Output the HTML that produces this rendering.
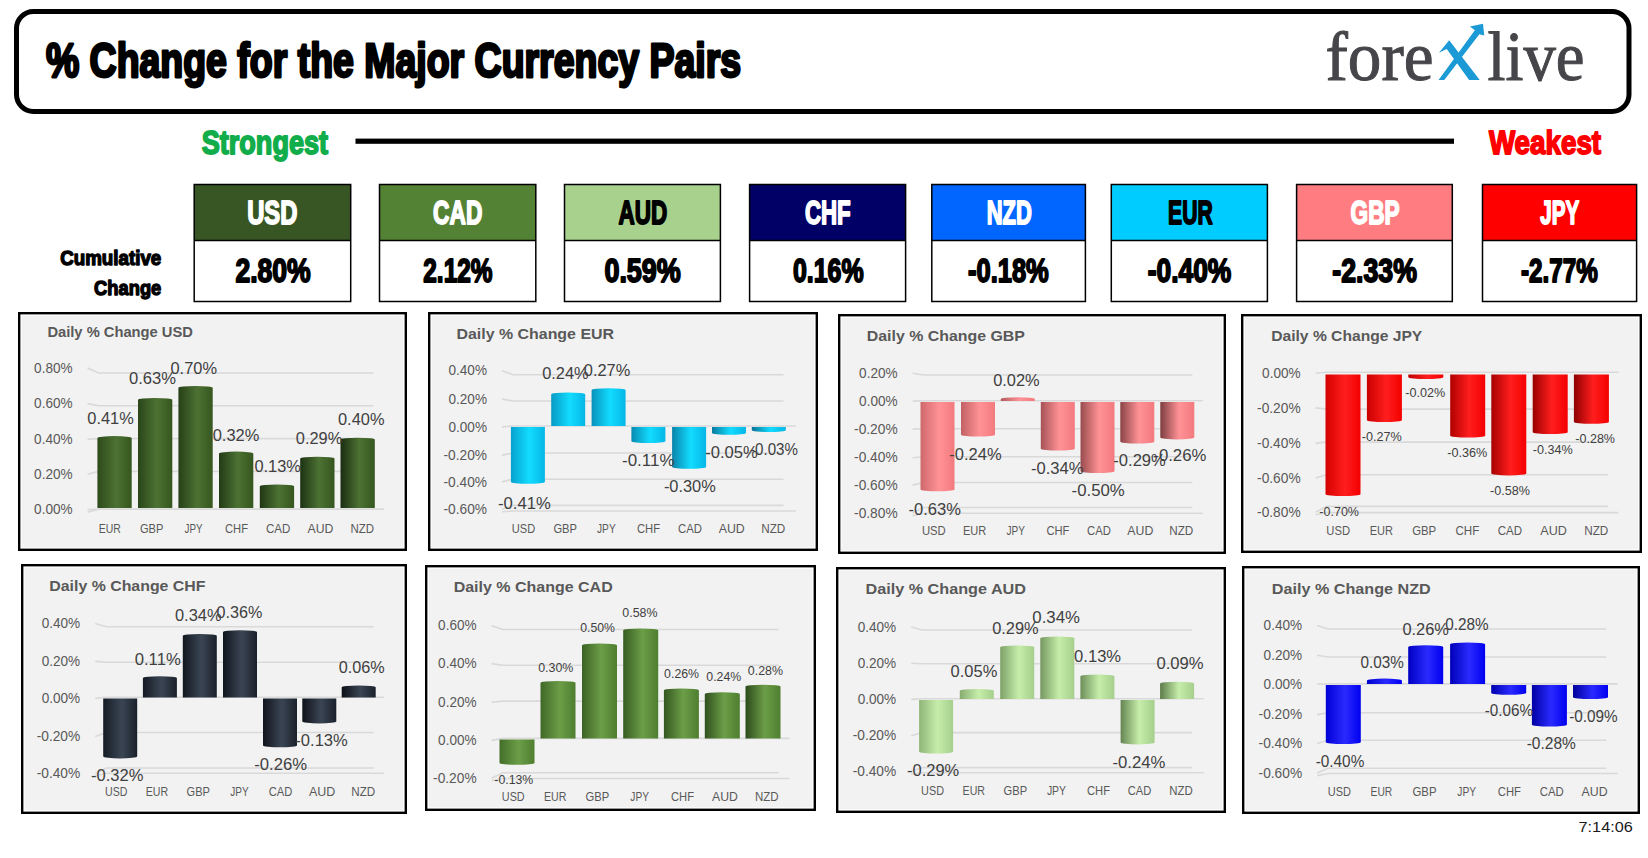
<!DOCTYPE html>
<html><head><meta charset="utf-8"><title>% Change for the Major Currency Pairs</title>
<style>html,body{margin:0;padding:0;background:#fff;width:1648px;height:858px;overflow:hidden;font-family:"Liberation Sans", sans-serif;}
svg{display:block;}</style></head>
<body><svg width="1648" height="858" viewBox="0 0 1648 858">
<rect x="16.5" y="11.5" width="1612.5" height="100" rx="17" ry="17" fill="#fff" stroke="#000" stroke-width="5"/>
<text x="45.9" y="77.1" font-family="Liberation Sans" font-size="47.53" font-weight="bold" fill="#000" text-anchor="start" textLength="695.2" lengthAdjust="spacingAndGlyphs" stroke="#000" stroke-width="2.8" stroke-linejoin="round">% Change for the Major Currency Pairs</text>
<text x="1325.5" y="79.5" font-family="Liberation Serif" font-size="70" fill="#46464a" stroke="#46464a" stroke-width="1" textLength="108" lengthAdjust="spacingAndGlyphs">fore</text>
<text x="1487.5" y="79.5" font-family="Liberation Serif" font-size="70" fill="#46464a" stroke="#46464a" stroke-width="1" textLength="97" lengthAdjust="spacingAndGlyphs">live</text>
<polygon points="1438.97,52.67 1449.17,40.19 1479.76,79.99 1469.15,79.99 1446.72,49.00" fill="#1b9ad6"/>
<polygon points="1438.56,79.99 1444.27,79.99 1479.35,34.31 1484.24,35.54 1483.02,23.71 1469.97,26.56 1474.86,30.23" fill="#1b9ad6"/>
<text x="201.7" y="153.5" font-family="Liberation Sans" font-size="33.14" font-weight="bold" fill="#12ad4b" text-anchor="start" textLength="126.4" lengthAdjust="spacingAndGlyphs" stroke="#12ad4b" stroke-width="1.8" stroke-linejoin="round">Strongest</text>
<text x="1488.9" y="153.5" font-family="Liberation Sans" font-size="33.14" font-weight="bold" fill="#ff0000" text-anchor="start" textLength="112.2" lengthAdjust="spacingAndGlyphs" stroke="#ff0000" stroke-width="1.8" stroke-linejoin="round">Weakest</text>
<rect x="355.5" y="138.6" width="1098.5" height="5.2" fill="#000"/>
<text x="60.2" y="265.1" font-family="Liberation Sans" font-size="21.08" font-weight="bold" fill="#000" text-anchor="start" textLength="101.1" lengthAdjust="spacingAndGlyphs" stroke="#000" stroke-width="1.4" stroke-linejoin="round">Cumulative</text>
<text x="94.1" y="295.0" font-family="Liberation Sans" font-size="21.08" font-weight="bold" fill="#000" text-anchor="start" textLength="67.2" lengthAdjust="spacingAndGlyphs" stroke="#000" stroke-width="1.4" stroke-linejoin="round">Change</text>
<rect x="194.2" y="184.5" width="156.5" height="56" fill="#375623"/>
<rect x="194.2" y="240.5" width="156.5" height="61" fill="#fff"/>
<rect x="194.2" y="184.5" width="156.5" height="117" fill="none" stroke="#000" stroke-width="1.5"/>
<line x1="194.2" y1="240.5" x2="350.7" y2="240.5" stroke="#000" stroke-width="1.5"/>
<text x="247.2" y="223.6" font-family="Liberation Sans" font-size="33.14" font-weight="bold" fill="#fff" text-anchor="start" textLength="50.2" lengthAdjust="spacingAndGlyphs" stroke="#fff" stroke-width="1.8" stroke-linejoin="round">USD</text>
<text x="235.4" y="281.9" font-family="Liberation Sans" font-size="33.14" font-weight="bold" fill="#000" text-anchor="start" textLength="75.3" lengthAdjust="spacingAndGlyphs" stroke="#000" stroke-width="1.8" stroke-linejoin="round">2.80%</text>
<rect x="379.5" y="184.5" width="156.3" height="56" fill="#548235"/>
<rect x="379.5" y="240.5" width="156.3" height="61" fill="#fff"/>
<rect x="379.5" y="184.5" width="156.3" height="117" fill="none" stroke="#000" stroke-width="1.5"/>
<line x1="379.5" y1="240.5" x2="535.8" y2="240.5" stroke="#000" stroke-width="1.5"/>
<text x="433.1" y="223.6" font-family="Liberation Sans" font-size="33.14" font-weight="bold" fill="#fff" text-anchor="start" textLength="49.2" lengthAdjust="spacingAndGlyphs" stroke="#fff" stroke-width="1.8" stroke-linejoin="round">CAD</text>
<text x="423.3" y="281.9" font-family="Liberation Sans" font-size="33.14" font-weight="bold" fill="#000" text-anchor="start" textLength="69.2" lengthAdjust="spacingAndGlyphs" stroke="#000" stroke-width="1.8" stroke-linejoin="round">2.12%</text>
<rect x="564.5" y="184.5" width="155.9" height="56" fill="#a9d18e"/>
<rect x="564.5" y="240.5" width="155.9" height="61" fill="#fff"/>
<rect x="564.5" y="184.5" width="155.9" height="117" fill="none" stroke="#000" stroke-width="1.5"/>
<line x1="564.5" y1="240.5" x2="720.4" y2="240.5" stroke="#000" stroke-width="1.5"/>
<text x="618.4" y="223.6" font-family="Liberation Sans" font-size="33.14" font-weight="bold" fill="#000" text-anchor="start" textLength="48.8" lengthAdjust="spacingAndGlyphs" stroke="#000" stroke-width="1.8" stroke-linejoin="round">AUD</text>
<text x="604.4" y="281.9" font-family="Liberation Sans" font-size="33.14" font-weight="bold" fill="#000" text-anchor="start" textLength="76.4" lengthAdjust="spacingAndGlyphs" stroke="#000" stroke-width="1.8" stroke-linejoin="round">0.59%</text>
<rect x="749.6" y="184.5" width="156.0" height="56" fill="#000066"/>
<rect x="749.6" y="240.5" width="156.0" height="61" fill="#fff"/>
<rect x="749.6" y="184.5" width="156.0" height="117" fill="none" stroke="#000" stroke-width="1.5"/>
<line x1="749.6" y1="240.5" x2="905.6" y2="240.5" stroke="#000" stroke-width="1.5"/>
<text x="804.9" y="223.6" font-family="Liberation Sans" font-size="33.14" font-weight="bold" fill="#fff" text-anchor="start" textLength="45.8" lengthAdjust="spacingAndGlyphs" stroke="#fff" stroke-width="1.8" stroke-linejoin="round">CHF</text>
<text x="793.0" y="281.9" font-family="Liberation Sans" font-size="33.14" font-weight="bold" fill="#000" text-anchor="start" textLength="70.6" lengthAdjust="spacingAndGlyphs" stroke="#000" stroke-width="1.8" stroke-linejoin="round">0.16%</text>
<rect x="931.8" y="184.5" width="153.6" height="56" fill="#0066ff"/>
<rect x="931.8" y="240.5" width="153.6" height="61" fill="#fff"/>
<rect x="931.8" y="184.5" width="153.6" height="117" fill="none" stroke="#000" stroke-width="1.5"/>
<line x1="931.8" y1="240.5" x2="1085.4" y2="240.5" stroke="#000" stroke-width="1.5"/>
<text x="986.7" y="223.6" font-family="Liberation Sans" font-size="33.14" font-weight="bold" fill="#fff" text-anchor="start" textLength="45.1" lengthAdjust="spacingAndGlyphs" stroke="#fff" stroke-width="1.8" stroke-linejoin="round">NZD</text>
<text x="968.0" y="281.9" font-family="Liberation Sans" font-size="33.14" font-weight="bold" fill="#000" text-anchor="start" textLength="80.8" lengthAdjust="spacingAndGlyphs" stroke="#000" stroke-width="1.8" stroke-linejoin="round">-0.18%</text>
<rect x="1111.3" y="184.5" width="156.1" height="56" fill="#00ccff"/>
<rect x="1111.3" y="240.5" width="156.1" height="61" fill="#fff"/>
<rect x="1111.3" y="184.5" width="156.1" height="117" fill="none" stroke="#000" stroke-width="1.5"/>
<line x1="1111.3" y1="240.5" x2="1267.4" y2="240.5" stroke="#000" stroke-width="1.5"/>
<text x="1168.1" y="223.6" font-family="Liberation Sans" font-size="33.14" font-weight="bold" fill="#000" text-anchor="start" textLength="44.6" lengthAdjust="spacingAndGlyphs" stroke="#000" stroke-width="1.8" stroke-linejoin="round">EUR</text>
<text x="1147.8" y="281.9" font-family="Liberation Sans" font-size="33.14" font-weight="bold" fill="#000" text-anchor="start" textLength="83.5" lengthAdjust="spacingAndGlyphs" stroke="#000" stroke-width="1.8" stroke-linejoin="round">-0.40%</text>
<rect x="1296.6" y="184.5" width="155.7" height="56" fill="#ff7c80"/>
<rect x="1296.6" y="240.5" width="155.7" height="61" fill="#fff"/>
<rect x="1296.6" y="184.5" width="155.7" height="117" fill="none" stroke="#000" stroke-width="1.5"/>
<line x1="1296.6" y1="240.5" x2="1452.3" y2="240.5" stroke="#000" stroke-width="1.5"/>
<text x="1350.6" y="223.6" font-family="Liberation Sans" font-size="33.14" font-weight="bold" fill="#fff" text-anchor="start" textLength="49.0" lengthAdjust="spacingAndGlyphs" stroke="#fff" stroke-width="1.8" stroke-linejoin="round">GBP</text>
<text x="1332.3" y="281.9" font-family="Liberation Sans" font-size="33.14" font-weight="bold" fill="#000" text-anchor="start" textLength="84.6" lengthAdjust="spacingAndGlyphs" stroke="#000" stroke-width="1.8" stroke-linejoin="round">-2.33%</text>
<rect x="1482.5" y="184.5" width="154.1" height="56" fill="#ff0000"/>
<rect x="1482.5" y="240.5" width="154.1" height="61" fill="#fff"/>
<rect x="1482.5" y="184.5" width="154.1" height="117" fill="none" stroke="#000" stroke-width="1.5"/>
<line x1="1482.5" y1="240.5" x2="1636.6" y2="240.5" stroke="#000" stroke-width="1.5"/>
<text x="1540.3" y="223.6" font-family="Liberation Sans" font-size="33.14" font-weight="bold" fill="#fff" text-anchor="start" textLength="39.1" lengthAdjust="spacingAndGlyphs" stroke="#fff" stroke-width="1.8" stroke-linejoin="round">JPY</text>
<text x="1520.9" y="281.9" font-family="Liberation Sans" font-size="33.14" font-weight="bold" fill="#000" text-anchor="start" textLength="76.8" lengthAdjust="spacingAndGlyphs" stroke="#000" stroke-width="1.8" stroke-linejoin="round">-2.77%</text>
<rect x="19.5" y="313.5" width="386.0" height="236.0" fill="#f2f2f2" stroke="#000" stroke-width="3"/>
<rect x="21.0" y="315.0" width="383.0" height="233.0" fill="none" stroke="#fff" stroke-width="1.2"/>
<text x="47.4" y="337.0" font-family="Liberation Sans" font-size="15.40" font-weight="bold" fill="#595959" text-anchor="start" textLength="145.5" lengthAdjust="spacingAndGlyphs">Daily % Change USD</text>
<polyline points="87.6,368.1 98.6,373.0 373.4,373.0" fill="none" stroke="#d9d9d9" stroke-width="1.6"/>
<text x="34.1" y="372.7" font-family="Liberation Sans" font-size="14.20" font-weight="normal" fill="#595959" text-anchor="start" textLength="38.5" lengthAdjust="spacingAndGlyphs">0.80%</text>
<polyline points="87.6,403.6 98.6,405.8 373.4,405.8" fill="none" stroke="#d9d9d9" stroke-width="1.6"/>
<text x="34.1" y="408.2" font-family="Liberation Sans" font-size="14.20" font-weight="normal" fill="#595959" text-anchor="start" textLength="38.5" lengthAdjust="spacingAndGlyphs">0.60%</text>
<polyline points="87.6,439.1 98.6,438.6 373.4,438.6" fill="none" stroke="#d9d9d9" stroke-width="1.6"/>
<text x="34.1" y="443.7" font-family="Liberation Sans" font-size="14.20" font-weight="normal" fill="#595959" text-anchor="start" textLength="38.5" lengthAdjust="spacingAndGlyphs">0.40%</text>
<polyline points="87.6,474.2 98.6,471.4 373.4,471.4" fill="none" stroke="#d9d9d9" stroke-width="1.6"/>
<text x="34.1" y="478.8" font-family="Liberation Sans" font-size="14.20" font-weight="normal" fill="#595959" text-anchor="start" textLength="38.5" lengthAdjust="spacingAndGlyphs">0.20%</text>
<polyline points="87.6,509.6 98.6,509.3 384.0,509.3" fill="none" stroke="#d9d9d9" stroke-width="1.6"/>
<text x="34.1" y="514.2" font-family="Liberation Sans" font-size="14.20" font-weight="normal" fill="#595959" text-anchor="start" textLength="38.5" lengthAdjust="spacingAndGlyphs">0.00%</text>
<polyline points="87.6,512.2 98.6,509.3 384.0,509.3" fill="none" stroke="#d9d9d9" stroke-width="1.6"/>
<linearGradient id="g1" x1="0" x2="1" y1="0" y2="0"><stop offset="0" stop-color="#2e4a1b"/><stop offset="0.55" stop-color="#4c7233"/><stop offset="1" stop-color="#36561f"/></linearGradient>
<path d="M97.4,508.0 L97.4,437.9 A17.15,1.8 0 0 1 131.7,437.9 L131.7,508.0 Z" fill="url(#g1)"/>
<linearGradient id="g2" x1="0" x2="1" y1="0" y2="0"><stop offset="0" stop-color="#2a4519"/><stop offset="0.55" stop-color="#4c7233"/><stop offset="1" stop-color="#36561f"/></linearGradient>
<path d="M138.0,508.0 L138.0,399.8 A17.15,1.8 0 0 1 172.3,399.8 L172.3,508.0 Z" fill="url(#g2)"/>
<linearGradient id="g3" x1="0" x2="1" y1="0" y2="0"><stop offset="0" stop-color="#274018"/><stop offset="0.55" stop-color="#4c7233"/><stop offset="1" stop-color="#36561f"/></linearGradient>
<path d="M178.4,508.0 L178.4,387.7 A17.15,1.8 0 0 1 212.7,387.7 L212.7,508.0 Z" fill="url(#g3)"/>
<linearGradient id="g4" x1="0" x2="1" y1="0" y2="0"><stop offset="0" stop-color="#243b16"/><stop offset="0.55" stop-color="#4c7233"/><stop offset="1" stop-color="#36561f"/></linearGradient>
<path d="M219.0,508.0 L219.0,453.4 A17.15,1.8 0 0 1 253.3,453.4 L253.3,508.0 Z" fill="url(#g4)"/>
<linearGradient id="g5" x1="0" x2="1" y1="0" y2="0"><stop offset="0" stop-color="#213714"/><stop offset="0.55" stop-color="#4c7233"/><stop offset="1" stop-color="#36561f"/></linearGradient>
<path d="M259.8,508.0 L259.8,486.3 A17.15,1.8 0 0 1 294.1,486.3 L294.1,508.0 Z" fill="url(#g5)"/>
<linearGradient id="g6" x1="0" x2="1" y1="0" y2="0"><stop offset="0" stop-color="#1d3213"/><stop offset="0.55" stop-color="#4c7233"/><stop offset="1" stop-color="#36561f"/></linearGradient>
<path d="M300.2,508.0 L300.2,458.6 A17.15,1.8 0 0 1 334.5,458.6 L334.5,508.0 Z" fill="url(#g6)"/>
<linearGradient id="g7" x1="0" x2="1" y1="0" y2="0"><stop offset="0" stop-color="#1a2d11"/><stop offset="0.55" stop-color="#4c7233"/><stop offset="1" stop-color="#36561f"/></linearGradient>
<path d="M340.5,508.0 L340.5,439.6 A17.15,1.8 0 0 1 374.8,439.6 L374.8,508.0 Z" fill="url(#g7)"/>
<text x="87.3" y="423.7" font-family="Liberation Sans" font-size="16.00" font-weight="normal" fill="#404040" text-anchor="start" textLength="46.5" lengthAdjust="spacingAndGlyphs">0.41%</text>
<text x="129.0" y="384.1" font-family="Liberation Sans" font-size="16.00" font-weight="normal" fill="#404040" text-anchor="start" textLength="47.0" lengthAdjust="spacingAndGlyphs">0.63%</text>
<text x="170.5" y="373.7" font-family="Liberation Sans" font-size="16.00" font-weight="normal" fill="#404040" text-anchor="start" textLength="46.5" lengthAdjust="spacingAndGlyphs">0.70%</text>
<text x="212.7" y="440.6" font-family="Liberation Sans" font-size="16.00" font-weight="normal" fill="#404040" text-anchor="start" textLength="46.6" lengthAdjust="spacingAndGlyphs">0.32%</text>
<text x="254.4" y="472.4" font-family="Liberation Sans" font-size="16.00" font-weight="normal" fill="#404040" text-anchor="start" textLength="46.5" lengthAdjust="spacingAndGlyphs">0.13%</text>
<text x="295.8" y="444.1" font-family="Liberation Sans" font-size="16.00" font-weight="normal" fill="#404040" text-anchor="start" textLength="46.5" lengthAdjust="spacingAndGlyphs">0.29%</text>
<text x="338.0" y="425.3" font-family="Liberation Sans" font-size="16.00" font-weight="normal" fill="#404040" text-anchor="start" textLength="46.5" lengthAdjust="spacingAndGlyphs">0.40%</text>
<text x="98.8" y="533.0" font-family="Liberation Sans" font-size="12.20" font-weight="normal" fill="#595959" text-anchor="start" textLength="22.0" lengthAdjust="spacingAndGlyphs">EUR</text>
<text x="140.0" y="533.0" font-family="Liberation Sans" font-size="12.20" font-weight="normal" fill="#595959" text-anchor="start" textLength="23.4" lengthAdjust="spacingAndGlyphs">GBP</text>
<text x="184.6" y="533.0" font-family="Liberation Sans" font-size="12.20" font-weight="normal" fill="#595959" text-anchor="start" textLength="18.0" lengthAdjust="spacingAndGlyphs">JPY</text>
<text x="225.0" y="533.0" font-family="Liberation Sans" font-size="12.20" font-weight="normal" fill="#595959" text-anchor="start" textLength="23.0" lengthAdjust="spacingAndGlyphs">CHF</text>
<text x="266.0" y="533.0" font-family="Liberation Sans" font-size="12.20" font-weight="normal" fill="#595959" text-anchor="start" textLength="24.4" lengthAdjust="spacingAndGlyphs">CAD</text>
<text x="307.5" y="533.0" font-family="Liberation Sans" font-size="12.20" font-weight="normal" fill="#595959" text-anchor="start" textLength="25.9" lengthAdjust="spacingAndGlyphs">AUD</text>
<text x="350.4" y="533.0" font-family="Liberation Sans" font-size="12.20" font-weight="normal" fill="#595959" text-anchor="start" textLength="23.6" lengthAdjust="spacingAndGlyphs">NZD</text>
<rect x="429.5" y="313.5" width="387.0" height="236.0" fill="#f2f2f2" stroke="#000" stroke-width="3"/>
<rect x="431.0" y="315.0" width="384.0" height="233.0" fill="none" stroke="#fff" stroke-width="1.2"/>
<text x="456.5" y="338.6" font-family="Liberation Sans" font-size="15.40" font-weight="bold" fill="#595959" text-anchor="start" textLength="157.5" lengthAdjust="spacingAndGlyphs">Daily % Change EUR</text>
<polyline points="502.0,370.7 513.0,374.8 783.5,374.8" fill="none" stroke="#d9d9d9" stroke-width="1.6"/>
<text x="448.5" y="375.3" font-family="Liberation Sans" font-size="14.20" font-weight="normal" fill="#595959" text-anchor="start" textLength="38.5" lengthAdjust="spacingAndGlyphs">0.40%</text>
<polyline points="502.0,399.1 513.0,401.0 783.5,401.0" fill="none" stroke="#d9d9d9" stroke-width="1.6"/>
<text x="448.5" y="403.7" font-family="Liberation Sans" font-size="14.20" font-weight="normal" fill="#595959" text-anchor="start" textLength="38.5" lengthAdjust="spacingAndGlyphs">0.20%</text>
<polyline points="502.0,426.9 513.0,426.0 796.0,426.0" fill="none" stroke="#d9d9d9" stroke-width="1.6"/>
<text x="448.5" y="431.5" font-family="Liberation Sans" font-size="14.20" font-weight="normal" fill="#595959" text-anchor="start" textLength="38.5" lengthAdjust="spacingAndGlyphs">0.00%</text>
<polyline points="502.0,455.1 513.0,453.0 783.5,453.0" fill="none" stroke="#d9d9d9" stroke-width="1.6"/>
<text x="443.5" y="459.7" font-family="Liberation Sans" font-size="14.20" font-weight="normal" fill="#595959" text-anchor="start" textLength="43.5" lengthAdjust="spacingAndGlyphs">-0.20%</text>
<polyline points="502.0,481.9 513.0,479.2 783.5,479.2" fill="none" stroke="#d9d9d9" stroke-width="1.6"/>
<text x="443.5" y="486.5" font-family="Liberation Sans" font-size="14.20" font-weight="normal" fill="#595959" text-anchor="start" textLength="43.5" lengthAdjust="spacingAndGlyphs">-0.40%</text>
<polyline points="502.0,509.2 513.0,505.4 783.5,505.4" fill="none" stroke="#d9d9d9" stroke-width="1.6"/>
<text x="443.5" y="513.8" font-family="Liberation Sans" font-size="14.20" font-weight="normal" fill="#595959" text-anchor="start" textLength="43.5" lengthAdjust="spacingAndGlyphs">-0.60%</text>
<polyline points="502.0,511.8 513.0,511.0 796.0,511.0" fill="none" stroke="#d9d9d9" stroke-width="1.6"/>
<linearGradient id="g8" x1="0" x2="1" y1="0" y2="0"><stop offset="0" stop-color="#07a2ce"/><stop offset="0.55" stop-color="#12dcff"/><stop offset="1" stop-color="#06b6e6"/></linearGradient>
<path d="M510.9,427.0 L544.9,427.0 L544.9,482.0 A17.00,1.8 0 0 1 510.9,482.0 Z" fill="url(#g8)"/>
<linearGradient id="g9" x1="0" x2="1" y1="0" y2="0"><stop offset="0" stop-color="#089ac5"/><stop offset="0.55" stop-color="#12dcff"/><stop offset="1" stop-color="#06b6e6"/></linearGradient>
<path d="M551.2,426.0 L551.2,394.2 A17.00,1.8 0 0 1 585.2,394.2 L585.2,426.0 Z" fill="url(#g9)"/>
<linearGradient id="g10" x1="0" x2="1" y1="0" y2="0"><stop offset="0" stop-color="#0892bb"/><stop offset="0.55" stop-color="#12dcff"/><stop offset="1" stop-color="#06b6e6"/></linearGradient>
<path d="M591.6,426.0 L591.6,390.1 A17.00,1.8 0 0 1 625.6,390.1 L625.6,426.0 Z" fill="url(#g10)"/>
<linearGradient id="g11" x1="0" x2="1" y1="0" y2="0"><stop offset="0" stop-color="#098ab2"/><stop offset="0.55" stop-color="#12dcff"/><stop offset="1" stop-color="#06b6e6"/></linearGradient>
<path d="M631.4,427.0 L665.4,427.0 L665.4,441.2 A17.00,1.8 0 0 1 631.4,441.2 Z" fill="url(#g11)"/>
<linearGradient id="g12" x1="0" x2="1" y1="0" y2="0"><stop offset="0" stop-color="#0983a9"/><stop offset="0.55" stop-color="#12dcff"/><stop offset="1" stop-color="#06b6e6"/></linearGradient>
<path d="M672.1,427.0 L706.1,427.0 L706.1,467.0 A17.00,1.8 0 0 1 672.1,467.0 Z" fill="url(#g12)"/>
<linearGradient id="g13" x1="0" x2="1" y1="0" y2="0"><stop offset="0" stop-color="#0a7b9f"/><stop offset="0.55" stop-color="#12dcff"/><stop offset="1" stop-color="#06b6e6"/></linearGradient>
<path d="M712.0,427.0 L746.0,427.0 L746.0,433.0 A17.00,1.8 0 0 1 712.0,433.0 Z" fill="url(#g13)"/>
<linearGradient id="g14" x1="0" x2="1" y1="0" y2="0"><stop offset="0" stop-color="#0a7396"/><stop offset="0.55" stop-color="#12dcff"/><stop offset="1" stop-color="#06b6e6"/></linearGradient>
<path d="M751.8,427.0 L785.8,427.0 L785.8,430.3 A17.00,1.8 0 0 1 751.8,430.3 Z" fill="url(#g14)"/>
<text x="498.0" y="508.5" font-family="Liberation Sans" font-size="16.00" font-weight="normal" fill="#404040" text-anchor="start" textLength="52.8" lengthAdjust="spacingAndGlyphs">-0.41%</text>
<text x="542.2" y="379.2" font-family="Liberation Sans" font-size="16.00" font-weight="normal" fill="#404040" text-anchor="start" textLength="46.5" lengthAdjust="spacingAndGlyphs">0.24%</text>
<text x="583.8" y="376.4" font-family="Liberation Sans" font-size="16.00" font-weight="normal" fill="#404040" text-anchor="start" textLength="46.5" lengthAdjust="spacingAndGlyphs">0.27%</text>
<text x="622.0" y="466.3" font-family="Liberation Sans" font-size="16.00" font-weight="normal" fill="#404040" text-anchor="start" textLength="52.5" lengthAdjust="spacingAndGlyphs">-0.11%</text>
<text x="663.9" y="492.0" font-family="Liberation Sans" font-size="16.00" font-weight="normal" fill="#404040" text-anchor="start" textLength="51.9" lengthAdjust="spacingAndGlyphs">-0.30%</text>
<text x="705.2" y="458.0" font-family="Liberation Sans" font-size="16.00" font-weight="normal" fill="#404040" text-anchor="start" textLength="52.5" lengthAdjust="spacingAndGlyphs">-0.05%</text>
<text x="750.0" y="455.0" font-family="Liberation Sans" font-size="16.00" font-weight="normal" fill="#404040" text-anchor="start" textLength="48.0" lengthAdjust="spacingAndGlyphs">-0.03%</text>
<text x="511.8" y="532.5" font-family="Liberation Sans" font-size="12.20" font-weight="normal" fill="#595959" text-anchor="start" textLength="23.4" lengthAdjust="spacingAndGlyphs">USD</text>
<text x="553.4" y="532.5" font-family="Liberation Sans" font-size="12.20" font-weight="normal" fill="#595959" text-anchor="start" textLength="23.6" lengthAdjust="spacingAndGlyphs">GBP</text>
<text x="597.0" y="532.5" font-family="Liberation Sans" font-size="12.20" font-weight="normal" fill="#595959" text-anchor="start" textLength="18.7" lengthAdjust="spacingAndGlyphs">JPY</text>
<text x="637.0" y="532.5" font-family="Liberation Sans" font-size="12.20" font-weight="normal" fill="#595959" text-anchor="start" textLength="23.0" lengthAdjust="spacingAndGlyphs">CHF</text>
<text x="678.0" y="532.5" font-family="Liberation Sans" font-size="12.20" font-weight="normal" fill="#595959" text-anchor="start" textLength="23.9" lengthAdjust="spacingAndGlyphs">CAD</text>
<text x="718.7" y="532.5" font-family="Liberation Sans" font-size="12.20" font-weight="normal" fill="#595959" text-anchor="start" textLength="26.1" lengthAdjust="spacingAndGlyphs">AUD</text>
<text x="761.2" y="532.5" font-family="Liberation Sans" font-size="12.20" font-weight="normal" fill="#595959" text-anchor="start" textLength="24.1" lengthAdjust="spacingAndGlyphs">NZD</text>
<rect x="839.5" y="315.5" width="385.0" height="237.0" fill="#f2f2f2" stroke="#000" stroke-width="3"/>
<rect x="841.0" y="317.0" width="382.0" height="234.0" fill="none" stroke="#fff" stroke-width="1.2"/>
<text x="866.8" y="341.1" font-family="Liberation Sans" font-size="15.40" font-weight="bold" fill="#595959" text-anchor="start" textLength="158.1" lengthAdjust="spacingAndGlyphs">Daily % Change GBP</text>
<polyline points="912.6,373.2 923.6,375.0 1192.4,375.0" fill="none" stroke="#d9d9d9" stroke-width="1.6"/>
<text x="859.1" y="377.8" font-family="Liberation Sans" font-size="14.20" font-weight="normal" fill="#595959" text-anchor="start" textLength="38.5" lengthAdjust="spacingAndGlyphs">0.20%</text>
<polyline points="912.6,401.1 923.6,400.7 1202.8,400.7" fill="none" stroke="#d9d9d9" stroke-width="1.6"/>
<text x="859.1" y="405.7" font-family="Liberation Sans" font-size="14.20" font-weight="normal" fill="#595959" text-anchor="start" textLength="38.5" lengthAdjust="spacingAndGlyphs">0.00%</text>
<polyline points="912.6,429.1 923.6,428.7 1192.4,428.7" fill="none" stroke="#d9d9d9" stroke-width="1.6"/>
<text x="854.1" y="433.7" font-family="Liberation Sans" font-size="14.20" font-weight="normal" fill="#595959" text-anchor="start" textLength="43.5" lengthAdjust="spacingAndGlyphs">-0.20%</text>
<polyline points="912.6,457.7 923.6,456.7 1192.4,456.7" fill="none" stroke="#d9d9d9" stroke-width="1.6"/>
<text x="854.1" y="462.3" font-family="Liberation Sans" font-size="14.20" font-weight="normal" fill="#595959" text-anchor="start" textLength="43.5" lengthAdjust="spacingAndGlyphs">-0.40%</text>
<polyline points="912.6,485.1 923.6,482.5 1192.4,482.5" fill="none" stroke="#d9d9d9" stroke-width="1.6"/>
<text x="854.1" y="489.7" font-family="Liberation Sans" font-size="14.20" font-weight="normal" fill="#595959" text-anchor="start" textLength="43.5" lengthAdjust="spacingAndGlyphs">-0.60%</text>
<polyline points="912.6,513.0 923.6,507.5 1192.4,507.5" fill="none" stroke="#d9d9d9" stroke-width="1.6"/>
<text x="854.1" y="517.6" font-family="Liberation Sans" font-size="14.20" font-weight="normal" fill="#595959" text-anchor="start" textLength="43.5" lengthAdjust="spacingAndGlyphs">-0.80%</text>
<polyline points="912.6,515.6 923.6,513.2 1202.8,513.2" fill="none" stroke="#d9d9d9" stroke-width="1.6"/>
<linearGradient id="g15" x1="0" x2="1" y1="0" y2="0"><stop offset="0" stop-color="#cf686b"/><stop offset="0.55" stop-color="#ff9296"/><stop offset="1" stop-color="#f27a7e"/></linearGradient>
<path d="M920.5,402.0 L954.5,402.0 L954.5,489.4 A17.00,1.8 0 0 1 920.5,489.4 Z" fill="url(#g15)"/>
<linearGradient id="g16" x1="0" x2="1" y1="0" y2="0"><stop offset="0" stop-color="#c16164"/><stop offset="0.55" stop-color="#ff9296"/><stop offset="1" stop-color="#f27a7e"/></linearGradient>
<path d="M961.0,402.0 L995.0,402.0 L995.0,434.8 A17.00,1.8 0 0 1 961.0,434.8 Z" fill="url(#g16)"/>
<linearGradient id="g17" x1="0" x2="1" y1="0" y2="0"><stop offset="0" stop-color="#b3595d"/><stop offset="0.55" stop-color="#ff9296"/><stop offset="1" stop-color="#f27a7e"/></linearGradient>
<path d="M1000.8,401.0 L1000.8,399.0 A17.00,1.8 0 0 1 1034.8,399.0 L1034.8,401.0 Z" fill="url(#g17)"/>
<linearGradient id="g18" x1="0" x2="1" y1="0" y2="0"><stop offset="0" stop-color="#a55256"/><stop offset="0.55" stop-color="#ff9296"/><stop offset="1" stop-color="#f27a7e"/></linearGradient>
<path d="M1040.8,402.0 L1074.8,402.0 L1074.8,448.8 A17.00,1.8 0 0 1 1040.8,448.8 Z" fill="url(#g18)"/>
<linearGradient id="g19" x1="0" x2="1" y1="0" y2="0"><stop offset="0" stop-color="#984b4e"/><stop offset="0.55" stop-color="#ff9296"/><stop offset="1" stop-color="#f27a7e"/></linearGradient>
<path d="M1080.5,402.0 L1114.5,402.0 L1114.5,471.2 A17.00,1.8 0 0 1 1080.5,471.2 Z" fill="url(#g19)"/>
<linearGradient id="g20" x1="0" x2="1" y1="0" y2="0"><stop offset="0" stop-color="#8a4447"/><stop offset="0.55" stop-color="#ff9296"/><stop offset="1" stop-color="#f27a7e"/></linearGradient>
<path d="M1120.3,402.0 L1154.3,402.0 L1154.3,441.8 A17.00,1.8 0 0 1 1120.3,441.8 Z" fill="url(#g20)"/>
<linearGradient id="g21" x1="0" x2="1" y1="0" y2="0"><stop offset="0" stop-color="#7c3d40"/><stop offset="0.55" stop-color="#ff9296"/><stop offset="1" stop-color="#f27a7e"/></linearGradient>
<path d="M1160.3,402.0 L1194.3,402.0 L1194.3,437.6 A17.00,1.8 0 0 1 1160.3,437.6 Z" fill="url(#g21)"/>
<text x="908.5" y="514.6" font-family="Liberation Sans" font-size="16.00" font-weight="normal" fill="#404040" text-anchor="start" textLength="52.5" lengthAdjust="spacingAndGlyphs">-0.63%</text>
<text x="949.3" y="460.0" font-family="Liberation Sans" font-size="16.00" font-weight="normal" fill="#404040" text-anchor="start" textLength="52.3" lengthAdjust="spacingAndGlyphs">-0.24%</text>
<text x="993.2" y="386.2" font-family="Liberation Sans" font-size="16.00" font-weight="normal" fill="#404040" text-anchor="start" textLength="46.5" lengthAdjust="spacingAndGlyphs">0.02%</text>
<text x="1031.0" y="474.0" font-family="Liberation Sans" font-size="16.00" font-weight="normal" fill="#404040" text-anchor="start" textLength="52.5" lengthAdjust="spacingAndGlyphs">-0.34%</text>
<text x="1071.6" y="495.8" font-family="Liberation Sans" font-size="16.00" font-weight="normal" fill="#404040" text-anchor="start" textLength="53.1" lengthAdjust="spacingAndGlyphs">-0.50%</text>
<text x="1113.3" y="466.4" font-family="Liberation Sans" font-size="16.00" font-weight="normal" fill="#404040" text-anchor="start" textLength="52.5" lengthAdjust="spacingAndGlyphs">-0.29%</text>
<text x="1153.3" y="461.4" font-family="Liberation Sans" font-size="16.00" font-weight="normal" fill="#404040" text-anchor="start" textLength="53.1" lengthAdjust="spacingAndGlyphs">-0.26%</text>
<text x="921.9" y="535.0" font-family="Liberation Sans" font-size="12.20" font-weight="normal" fill="#595959" text-anchor="start" textLength="23.8" lengthAdjust="spacingAndGlyphs">USD</text>
<text x="963.0" y="535.0" font-family="Liberation Sans" font-size="12.20" font-weight="normal" fill="#595959" text-anchor="start" textLength="23.3" lengthAdjust="spacingAndGlyphs">EUR</text>
<text x="1006.4" y="535.0" font-family="Liberation Sans" font-size="12.20" font-weight="normal" fill="#595959" text-anchor="start" textLength="18.5" lengthAdjust="spacingAndGlyphs">JPY</text>
<text x="1046.4" y="535.0" font-family="Liberation Sans" font-size="12.20" font-weight="normal" fill="#595959" text-anchor="start" textLength="23.0" lengthAdjust="spacingAndGlyphs">CHF</text>
<text x="1087.0" y="535.0" font-family="Liberation Sans" font-size="12.20" font-weight="normal" fill="#595959" text-anchor="start" textLength="23.8" lengthAdjust="spacingAndGlyphs">CAD</text>
<text x="1127.3" y="535.0" font-family="Liberation Sans" font-size="12.20" font-weight="normal" fill="#595959" text-anchor="start" textLength="26.0" lengthAdjust="spacingAndGlyphs">AUD</text>
<text x="1169.2" y="535.0" font-family="Liberation Sans" font-size="12.20" font-weight="normal" fill="#595959" text-anchor="start" textLength="24.1" lengthAdjust="spacingAndGlyphs">NZD</text>
<rect x="1242.5" y="315.5" width="398.0" height="236.0" fill="#f2f2f2" stroke="#000" stroke-width="3"/>
<rect x="1244.0" y="317.0" width="395.0" height="233.0" fill="none" stroke="#fff" stroke-width="1.2"/>
<text x="1271.2" y="341.1" font-family="Liberation Sans" font-size="15.40" font-weight="bold" fill="#595959" text-anchor="start" textLength="151.1" lengthAdjust="spacingAndGlyphs">Daily % Change JPY</text>
<polyline points="1315.6,373.2 1326.6,372.2 1618.6,372.2" fill="none" stroke="#d9d9d9" stroke-width="1.6"/>
<text x="1262.1" y="377.8" font-family="Liberation Sans" font-size="14.20" font-weight="normal" fill="#595959" text-anchor="start" textLength="38.5" lengthAdjust="spacingAndGlyphs">0.00%</text>
<polyline points="1315.6,407.9 1326.6,409.1 1608.0,409.1" fill="none" stroke="#d9d9d9" stroke-width="1.6"/>
<text x="1257.1" y="412.5" font-family="Liberation Sans" font-size="14.20" font-weight="normal" fill="#595959" text-anchor="start" textLength="43.5" lengthAdjust="spacingAndGlyphs">-0.20%</text>
<polyline points="1315.6,443.1 1326.6,442.1 1608.0,442.1" fill="none" stroke="#d9d9d9" stroke-width="1.6"/>
<text x="1257.1" y="447.7" font-family="Liberation Sans" font-size="14.20" font-weight="normal" fill="#595959" text-anchor="start" textLength="43.5" lengthAdjust="spacingAndGlyphs">-0.40%</text>
<polyline points="1315.6,478.1 1326.6,474.8 1608.0,474.8" fill="none" stroke="#d9d9d9" stroke-width="1.6"/>
<text x="1257.1" y="482.7" font-family="Liberation Sans" font-size="14.20" font-weight="normal" fill="#595959" text-anchor="start" textLength="43.5" lengthAdjust="spacingAndGlyphs">-0.60%</text>
<polyline points="1315.6,512.2 1326.6,506.4 1608.0,506.4" fill="none" stroke="#d9d9d9" stroke-width="1.6"/>
<text x="1257.1" y="516.8" font-family="Liberation Sans" font-size="14.20" font-weight="normal" fill="#595959" text-anchor="start" textLength="43.5" lengthAdjust="spacingAndGlyphs">-0.80%</text>
<polyline points="1315.6,514.8 1326.6,512.6 1618.6,512.6" fill="none" stroke="#d9d9d9" stroke-width="1.6"/>
<linearGradient id="g22" x1="0" x2="1" y1="0" y2="0"><stop offset="0" stop-color="#d50000"/><stop offset="0.55" stop-color="#ff1e1e"/><stop offset="1" stop-color="#f40000"/></linearGradient>
<path d="M1325.5,374.6 L1360.5,374.6 L1360.5,494.2 A17.50,1.8 0 0 1 1325.5,494.2 Z" fill="url(#g22)"/>
<linearGradient id="g23" x1="0" x2="1" y1="0" y2="0"><stop offset="0" stop-color="#ca0000"/><stop offset="0.55" stop-color="#ff1e1e"/><stop offset="1" stop-color="#f40000"/></linearGradient>
<path d="M1366.9,374.6 L1401.9,374.6 L1401.9,420.2 A17.50,1.8 0 0 1 1366.9,420.2 Z" fill="url(#g23)"/>
<linearGradient id="g24" x1="0" x2="1" y1="0" y2="0"><stop offset="0" stop-color="#be0000"/><stop offset="0.55" stop-color="#ff1e1e"/><stop offset="1" stop-color="#f40000"/></linearGradient>
<path d="M1408.3,374.6 L1443.3,374.6 L1443.3,377.2 A17.50,1.8 0 0 1 1408.3,377.2 Z" fill="url(#g24)"/>
<linearGradient id="g25" x1="0" x2="1" y1="0" y2="0"><stop offset="0" stop-color="#b20000"/><stop offset="0.55" stop-color="#ff1e1e"/><stop offset="1" stop-color="#f40000"/></linearGradient>
<path d="M1450.2,374.6 L1485.2,374.6 L1485.2,435.7 A17.50,1.8 0 0 1 1450.2,435.7 Z" fill="url(#g25)"/>
<linearGradient id="g26" x1="0" x2="1" y1="0" y2="0"><stop offset="0" stop-color="#a60000"/><stop offset="0.55" stop-color="#ff1e1e"/><stop offset="1" stop-color="#f40000"/></linearGradient>
<path d="M1491.3,374.6 L1526.3,374.6 L1526.3,473.6 A17.50,1.8 0 0 1 1491.3,473.6 Z" fill="url(#g26)"/>
<linearGradient id="g27" x1="0" x2="1" y1="0" y2="0"><stop offset="0" stop-color="#9a0000"/><stop offset="0.55" stop-color="#ff1e1e"/><stop offset="1" stop-color="#f40000"/></linearGradient>
<path d="M1532.7,374.6 L1567.7,374.6 L1567.7,432.3 A17.50,1.8 0 0 1 1532.7,432.3 Z" fill="url(#g27)"/>
<linearGradient id="g28" x1="0" x2="1" y1="0" y2="0"><stop offset="0" stop-color="#8e0000"/><stop offset="0.55" stop-color="#ff1e1e"/><stop offset="1" stop-color="#f40000"/></linearGradient>
<path d="M1573.9,374.6 L1608.9,374.6 L1608.9,422.0 A17.50,1.8 0 0 1 1573.9,422.0 Z" fill="url(#g28)"/>
<text x="1319.3" y="516.0" font-family="Liberation Sans" font-size="13.00" font-weight="normal" fill="#404040" text-anchor="start" textLength="39.7" lengthAdjust="spacingAndGlyphs">-0.70%</text>
<text x="1361.8" y="441.3" font-family="Liberation Sans" font-size="13.00" font-weight="normal" fill="#404040" text-anchor="start" textLength="40.0" lengthAdjust="spacingAndGlyphs">-0.27%</text>
<text x="1405.2" y="397.4" font-family="Liberation Sans" font-size="13.00" font-weight="normal" fill="#404040" text-anchor="start" textLength="40.0" lengthAdjust="spacingAndGlyphs">-0.02%</text>
<text x="1447.2" y="456.7" font-family="Liberation Sans" font-size="13.00" font-weight="normal" fill="#404040" text-anchor="start" textLength="40.0" lengthAdjust="spacingAndGlyphs">-0.36%</text>
<text x="1490.0" y="495.3" font-family="Liberation Sans" font-size="13.00" font-weight="normal" fill="#404040" text-anchor="start" textLength="40.0" lengthAdjust="spacingAndGlyphs">-0.58%</text>
<text x="1532.7" y="453.9" font-family="Liberation Sans" font-size="13.00" font-weight="normal" fill="#404040" text-anchor="start" textLength="40.0" lengthAdjust="spacingAndGlyphs">-0.34%</text>
<text x="1575.3" y="442.7" font-family="Liberation Sans" font-size="13.00" font-weight="normal" fill="#404040" text-anchor="start" textLength="39.7" lengthAdjust="spacingAndGlyphs">-0.28%</text>
<text x="1326.3" y="535.0" font-family="Liberation Sans" font-size="12.20" font-weight="normal" fill="#595959" text-anchor="start" textLength="23.7" lengthAdjust="spacingAndGlyphs">USD</text>
<text x="1369.7" y="535.0" font-family="Liberation Sans" font-size="12.20" font-weight="normal" fill="#595959" text-anchor="start" textLength="23.2" lengthAdjust="spacingAndGlyphs">EUR</text>
<text x="1412.2" y="535.0" font-family="Liberation Sans" font-size="12.20" font-weight="normal" fill="#595959" text-anchor="start" textLength="24.0" lengthAdjust="spacingAndGlyphs">GBP</text>
<text x="1455.5" y="535.0" font-family="Liberation Sans" font-size="12.20" font-weight="normal" fill="#595959" text-anchor="start" textLength="23.8" lengthAdjust="spacingAndGlyphs">CHF</text>
<text x="1497.8" y="535.0" font-family="Liberation Sans" font-size="12.20" font-weight="normal" fill="#595959" text-anchor="start" textLength="24.3" lengthAdjust="spacingAndGlyphs">CAD</text>
<text x="1540.3" y="535.0" font-family="Liberation Sans" font-size="12.20" font-weight="normal" fill="#595959" text-anchor="start" textLength="26.6" lengthAdjust="spacingAndGlyphs">AUD</text>
<text x="1584.2" y="535.0" font-family="Liberation Sans" font-size="12.20" font-weight="normal" fill="#595959" text-anchor="start" textLength="24.1" lengthAdjust="spacingAndGlyphs">NZD</text>
<rect x="22.5" y="565.5" width="383.0" height="247.0" fill="#f2f2f2" stroke="#000" stroke-width="3"/>
<rect x="24.0" y="567.0" width="380.0" height="244.0" fill="none" stroke="#fff" stroke-width="1.2"/>
<text x="49.3" y="590.8" font-family="Liberation Sans" font-size="15.40" font-weight="bold" fill="#595959" text-anchor="start" textLength="156.2" lengthAdjust="spacingAndGlyphs">Daily % Change CHF</text>
<polyline points="95.2,623.5 106.2,626.7 373.8,626.7" fill="none" stroke="#d9d9d9" stroke-width="1.6"/>
<text x="41.7" y="628.1" font-family="Liberation Sans" font-size="14.20" font-weight="normal" fill="#595959" text-anchor="start" textLength="38.5" lengthAdjust="spacingAndGlyphs">0.40%</text>
<polyline points="95.2,661.4 106.2,662.3 373.8,662.3" fill="none" stroke="#d9d9d9" stroke-width="1.6"/>
<text x="41.7" y="666.0" font-family="Liberation Sans" font-size="14.20" font-weight="normal" fill="#595959" text-anchor="start" textLength="38.5" lengthAdjust="spacingAndGlyphs">0.20%</text>
<polyline points="95.2,698.4 106.2,697.2 384.0,697.2" fill="none" stroke="#d9d9d9" stroke-width="1.6"/>
<text x="41.7" y="703.0" font-family="Liberation Sans" font-size="14.20" font-weight="normal" fill="#595959" text-anchor="start" textLength="38.5" lengthAdjust="spacingAndGlyphs">0.00%</text>
<polyline points="95.2,736.4 106.2,732.5 373.8,732.5" fill="none" stroke="#d9d9d9" stroke-width="1.6"/>
<text x="36.7" y="741.0" font-family="Liberation Sans" font-size="14.20" font-weight="normal" fill="#595959" text-anchor="start" textLength="43.5" lengthAdjust="spacingAndGlyphs">-0.20%</text>
<polyline points="95.2,773.7 106.2,768.0 373.8,768.0" fill="none" stroke="#d9d9d9" stroke-width="1.6"/>
<text x="36.7" y="778.3" font-family="Liberation Sans" font-size="14.20" font-weight="normal" fill="#595959" text-anchor="start" textLength="43.5" lengthAdjust="spacingAndGlyphs">-0.40%</text>
<polyline points="95.2,776.3 106.2,773.3 384.0,773.3" fill="none" stroke="#d9d9d9" stroke-width="1.6"/>
<linearGradient id="g29" x1="0" x2="1" y1="0" y2="0"><stop offset="0" stop-color="#161c25"/><stop offset="0.55" stop-color="#3a4554"/><stop offset="1" stop-color="#1b212b"/></linearGradient>
<path d="M103.2,698.5 L137.2,698.5 L137.2,756.6 A17.00,1.8 0 0 1 103.2,756.6 Z" fill="url(#g29)"/>
<linearGradient id="g30" x1="0" x2="1" y1="0" y2="0"><stop offset="0" stop-color="#151a23"/><stop offset="0.55" stop-color="#3a4554"/><stop offset="1" stop-color="#1b212b"/></linearGradient>
<path d="M142.9,697.5 L142.9,678.1 A17.00,1.8 0 0 1 176.9,678.1 L176.9,697.5 Z" fill="url(#g30)"/>
<linearGradient id="g31" x1="0" x2="1" y1="0" y2="0"><stop offset="0" stop-color="#131820"/><stop offset="0.55" stop-color="#3a4554"/><stop offset="1" stop-color="#1b212b"/></linearGradient>
<path d="M182.8,697.5 L182.8,635.7 A17.00,1.8 0 0 1 216.8,635.7 L216.8,697.5 Z" fill="url(#g31)"/>
<linearGradient id="g32" x1="0" x2="1" y1="0" y2="0"><stop offset="0" stop-color="#11161e"/><stop offset="0.55" stop-color="#3a4554"/><stop offset="1" stop-color="#1b212b"/></linearGradient>
<path d="M223.0,697.5 L223.0,632.1 A17.00,1.8 0 0 1 257.0,632.1 L257.0,697.5 Z" fill="url(#g32)"/>
<linearGradient id="g33" x1="0" x2="1" y1="0" y2="0"><stop offset="0" stop-color="#10141c"/><stop offset="0.55" stop-color="#3a4554"/><stop offset="1" stop-color="#1b212b"/></linearGradient>
<path d="M263.0,698.5 L297.0,698.5 L297.0,745.5 A17.00,1.8 0 0 1 263.0,745.5 Z" fill="url(#g33)"/>
<linearGradient id="g34" x1="0" x2="1" y1="0" y2="0"><stop offset="0" stop-color="#0e1219"/><stop offset="0.55" stop-color="#3a4554"/><stop offset="1" stop-color="#1b212b"/></linearGradient>
<path d="M302.3,698.5 L336.3,698.5 L336.3,721.6 A17.00,1.8 0 0 1 302.3,721.6 Z" fill="url(#g34)"/>
<linearGradient id="g35" x1="0" x2="1" y1="0" y2="0"><stop offset="0" stop-color="#0c1017"/><stop offset="0.55" stop-color="#3a4554"/><stop offset="1" stop-color="#1b212b"/></linearGradient>
<path d="M341.7,697.5 L341.7,687.3 A17.00,1.8 0 0 1 375.7,687.3 L375.7,697.5 Z" fill="url(#g35)"/>
<text x="91.0" y="781.2" font-family="Liberation Sans" font-size="16.00" font-weight="normal" fill="#404040" text-anchor="start" textLength="52.4" lengthAdjust="spacingAndGlyphs">-0.32%</text>
<text x="134.7" y="664.6" font-family="Liberation Sans" font-size="16.00" font-weight="normal" fill="#404040" text-anchor="start" textLength="46.1" lengthAdjust="spacingAndGlyphs">0.11%</text>
<text x="175.0" y="620.9" font-family="Liberation Sans" font-size="16.00" font-weight="normal" fill="#404040" text-anchor="start" textLength="46.5" lengthAdjust="spacingAndGlyphs">0.34%</text>
<text x="216.6" y="618.0" font-family="Liberation Sans" font-size="16.00" font-weight="normal" fill="#404040" text-anchor="start" textLength="45.8" lengthAdjust="spacingAndGlyphs">0.36%</text>
<text x="254.2" y="770.4" font-family="Liberation Sans" font-size="16.00" font-weight="normal" fill="#404040" text-anchor="start" textLength="52.8" lengthAdjust="spacingAndGlyphs">-0.26%</text>
<text x="295.3" y="746.2" font-family="Liberation Sans" font-size="16.00" font-weight="normal" fill="#404040" text-anchor="start" textLength="52.5" lengthAdjust="spacingAndGlyphs">-0.13%</text>
<text x="338.8" y="673.3" font-family="Liberation Sans" font-size="16.00" font-weight="normal" fill="#404040" text-anchor="start" textLength="46.0" lengthAdjust="spacingAndGlyphs">0.06%</text>
<text x="105.0" y="795.8" font-family="Liberation Sans" font-size="12.20" font-weight="normal" fill="#595959" text-anchor="start" textLength="22.4" lengthAdjust="spacingAndGlyphs">USD</text>
<text x="145.8" y="795.8" font-family="Liberation Sans" font-size="12.20" font-weight="normal" fill="#595959" text-anchor="start" textLength="22.4" lengthAdjust="spacingAndGlyphs">EUR</text>
<text x="186.6" y="795.8" font-family="Liberation Sans" font-size="12.20" font-weight="normal" fill="#595959" text-anchor="start" textLength="23.3" lengthAdjust="spacingAndGlyphs">GBP</text>
<text x="230.3" y="795.8" font-family="Liberation Sans" font-size="12.20" font-weight="normal" fill="#595959" text-anchor="start" textLength="18.4" lengthAdjust="spacingAndGlyphs">JPY</text>
<text x="268.8" y="795.8" font-family="Liberation Sans" font-size="12.20" font-weight="normal" fill="#595959" text-anchor="start" textLength="23.6" lengthAdjust="spacingAndGlyphs">CAD</text>
<text x="309.0" y="795.8" font-family="Liberation Sans" font-size="12.20" font-weight="normal" fill="#595959" text-anchor="start" textLength="26.3" lengthAdjust="spacingAndGlyphs">AUD</text>
<text x="351.3" y="795.8" font-family="Liberation Sans" font-size="12.20" font-weight="normal" fill="#595959" text-anchor="start" textLength="23.9" lengthAdjust="spacingAndGlyphs">NZD</text>
<rect x="426.5" y="566.5" width="388.0" height="243.0" fill="#f2f2f2" stroke="#000" stroke-width="3"/>
<rect x="428.0" y="568.0" width="385.0" height="240.0" fill="none" stroke="#fff" stroke-width="1.2"/>
<text x="453.7" y="592.2" font-family="Liberation Sans" font-size="15.40" font-weight="bold" fill="#595959" text-anchor="start" textLength="159.0" lengthAdjust="spacingAndGlyphs">Daily % Change CAD</text>
<polyline points="491.6,625.7 502.6,629.5 778.8,629.5" fill="none" stroke="#d9d9d9" stroke-width="1.6"/>
<text x="438.1" y="630.3" font-family="Liberation Sans" font-size="14.00" font-weight="normal" fill="#595959" text-anchor="start" textLength="38.5" lengthAdjust="spacingAndGlyphs">0.60%</text>
<polyline points="491.6,663.6 502.6,665.3 778.8,665.3" fill="none" stroke="#d9d9d9" stroke-width="1.6"/>
<text x="438.1" y="668.2" font-family="Liberation Sans" font-size="14.00" font-weight="normal" fill="#595959" text-anchor="start" textLength="38.5" lengthAdjust="spacingAndGlyphs">0.40%</text>
<polyline points="491.6,702.2 502.6,701.1 778.8,701.1" fill="none" stroke="#d9d9d9" stroke-width="1.6"/>
<text x="438.1" y="706.8" font-family="Liberation Sans" font-size="14.00" font-weight="normal" fill="#595959" text-anchor="start" textLength="38.5" lengthAdjust="spacingAndGlyphs">0.20%</text>
<polyline points="491.6,740.4 502.6,738.4 789.4,738.4" fill="none" stroke="#d9d9d9" stroke-width="1.6"/>
<text x="438.1" y="745.0" font-family="Liberation Sans" font-size="14.00" font-weight="normal" fill="#595959" text-anchor="start" textLength="38.5" lengthAdjust="spacingAndGlyphs">0.00%</text>
<polyline points="491.6,778.2 502.6,772.7 778.8,772.7" fill="none" stroke="#d9d9d9" stroke-width="1.6"/>
<text x="433.1" y="782.8" font-family="Liberation Sans" font-size="14.00" font-weight="normal" fill="#595959" text-anchor="start" textLength="43.5" lengthAdjust="spacingAndGlyphs">-0.20%</text>
<polyline points="491.6,780.8 502.6,778.5 789.4,778.5" fill="none" stroke="#d9d9d9" stroke-width="1.6"/>
<linearGradient id="g36" x1="0" x2="1" y1="0" y2="0"><stop offset="0" stop-color="#446e29"/><stop offset="0.55" stop-color="#6c9e48"/><stop offset="1" stop-color="#4e7e2f"/></linearGradient>
<path d="M499.5,739.4 L534.5,739.4 L534.5,763.0 A17.50,1.8 0 0 1 499.5,763.0 Z" fill="url(#g36)"/>
<linearGradient id="g37" x1="0" x2="1" y1="0" y2="0"><stop offset="0" stop-color="#406827"/><stop offset="0.55" stop-color="#6c9e48"/><stop offset="1" stop-color="#4e7e2f"/></linearGradient>
<path d="M540.5,738.4 L540.5,682.8 A17.50,1.8 0 0 1 575.5,682.8 L575.5,738.4 Z" fill="url(#g37)"/>
<linearGradient id="g38" x1="0" x2="1" y1="0" y2="0"><stop offset="0" stop-color="#3c6224"/><stop offset="0.55" stop-color="#6c9e48"/><stop offset="1" stop-color="#4e7e2f"/></linearGradient>
<path d="M582.0,738.4 L582.0,645.2 A17.50,1.8 0 0 1 617.0,645.2 L617.0,738.4 Z" fill="url(#g38)"/>
<linearGradient id="g39" x1="0" x2="1" y1="0" y2="0"><stop offset="0" stop-color="#385c22"/><stop offset="0.55" stop-color="#6c9e48"/><stop offset="1" stop-color="#4e7e2f"/></linearGradient>
<path d="M623.2,738.4 L623.2,630.2 A17.50,1.8 0 0 1 658.2,630.2 L658.2,738.4 Z" fill="url(#g39)"/>
<linearGradient id="g40" x1="0" x2="1" y1="0" y2="0"><stop offset="0" stop-color="#345620"/><stop offset="0.55" stop-color="#6c9e48"/><stop offset="1" stop-color="#4e7e2f"/></linearGradient>
<path d="M663.9,738.4 L663.9,690.3 A17.50,1.8 0 0 1 698.9,690.3 L698.9,738.4 Z" fill="url(#g40)"/>
<linearGradient id="g41" x1="0" x2="1" y1="0" y2="0"><stop offset="0" stop-color="#30501d"/><stop offset="0.55" stop-color="#6c9e48"/><stop offset="1" stop-color="#4e7e2f"/></linearGradient>
<path d="M704.8,738.4 L704.8,694.1 A17.50,1.8 0 0 1 739.8,694.1 L739.8,738.4 Z" fill="url(#g41)"/>
<linearGradient id="g42" x1="0" x2="1" y1="0" y2="0"><stop offset="0" stop-color="#2c4a1b"/><stop offset="0.55" stop-color="#6c9e48"/><stop offset="1" stop-color="#4e7e2f"/></linearGradient>
<path d="M745.5,738.4 L745.5,686.6 A17.50,1.8 0 0 1 780.5,686.6 L780.5,738.4 Z" fill="url(#g42)"/>
<text x="494.3" y="784.2" font-family="Liberation Sans" font-size="13.00" font-weight="normal" fill="#404040" text-anchor="start" textLength="39.0" lengthAdjust="spacingAndGlyphs">-0.13%</text>
<text x="538.2" y="671.6" font-family="Liberation Sans" font-size="13.00" font-weight="normal" fill="#404040" text-anchor="start" textLength="35.2" lengthAdjust="spacingAndGlyphs">0.30%</text>
<text x="580.3" y="632.3" font-family="Liberation Sans" font-size="13.00" font-weight="normal" fill="#404040" text-anchor="start" textLength="34.7" lengthAdjust="spacingAndGlyphs">0.50%</text>
<text x="622.3" y="616.6" font-family="Liberation Sans" font-size="13.00" font-weight="normal" fill="#404040" text-anchor="start" textLength="35.2" lengthAdjust="spacingAndGlyphs">0.58%</text>
<text x="664.1" y="678.2" font-family="Liberation Sans" font-size="13.00" font-weight="normal" fill="#404040" text-anchor="start" textLength="35.0" lengthAdjust="spacingAndGlyphs">0.26%</text>
<text x="706.3" y="681.0" font-family="Liberation Sans" font-size="13.00" font-weight="normal" fill="#404040" text-anchor="start" textLength="34.9" lengthAdjust="spacingAndGlyphs">0.24%</text>
<text x="747.8" y="674.5" font-family="Liberation Sans" font-size="13.00" font-weight="normal" fill="#404040" text-anchor="start" textLength="35.2" lengthAdjust="spacingAndGlyphs">0.28%</text>
<text x="501.8" y="800.5" font-family="Liberation Sans" font-size="12.20" font-weight="normal" fill="#595959" text-anchor="start" textLength="22.9" lengthAdjust="spacingAndGlyphs">USD</text>
<text x="543.9" y="800.5" font-family="Liberation Sans" font-size="12.20" font-weight="normal" fill="#595959" text-anchor="start" textLength="22.4" lengthAdjust="spacingAndGlyphs">EUR</text>
<text x="585.5" y="800.5" font-family="Liberation Sans" font-size="12.20" font-weight="normal" fill="#595959" text-anchor="start" textLength="23.7" lengthAdjust="spacingAndGlyphs">GBP</text>
<text x="630.3" y="800.5" font-family="Liberation Sans" font-size="12.20" font-weight="normal" fill="#595959" text-anchor="start" textLength="18.7" lengthAdjust="spacingAndGlyphs">JPY</text>
<text x="671.0" y="800.5" font-family="Liberation Sans" font-size="12.20" font-weight="normal" fill="#595959" text-anchor="start" textLength="23.0" lengthAdjust="spacingAndGlyphs">CHF</text>
<text x="712.0" y="800.5" font-family="Liberation Sans" font-size="12.20" font-weight="normal" fill="#595959" text-anchor="start" textLength="25.8" lengthAdjust="spacingAndGlyphs">AUD</text>
<text x="755.0" y="800.5" font-family="Liberation Sans" font-size="12.20" font-weight="normal" fill="#595959" text-anchor="start" textLength="23.7" lengthAdjust="spacingAndGlyphs">NZD</text>
<rect x="837.5" y="568.5" width="387.0" height="243.0" fill="#f2f2f2" stroke="#000" stroke-width="3"/>
<rect x="839.0" y="570.0" width="384.0" height="240.0" fill="none" stroke="#fff" stroke-width="1.2"/>
<text x="865.5" y="594.2" font-family="Liberation Sans" font-size="15.40" font-weight="bold" fill="#595959" text-anchor="start" textLength="160.5" lengthAdjust="spacingAndGlyphs">Daily % Change AUD</text>
<polyline points="911.2,626.9 922.2,630.0 1192.2,630.0" fill="none" stroke="#d9d9d9" stroke-width="1.6"/>
<text x="857.7" y="631.5" font-family="Liberation Sans" font-size="14.20" font-weight="normal" fill="#595959" text-anchor="start" textLength="38.5" lengthAdjust="spacingAndGlyphs">0.40%</text>
<polyline points="911.2,663.3 922.2,663.8 1192.2,663.8" fill="none" stroke="#d9d9d9" stroke-width="1.6"/>
<text x="857.7" y="667.9" font-family="Liberation Sans" font-size="14.20" font-weight="normal" fill="#595959" text-anchor="start" textLength="38.5" lengthAdjust="spacingAndGlyphs">0.20%</text>
<polyline points="911.2,699.4 922.2,698.8 1203.7,698.8" fill="none" stroke="#d9d9d9" stroke-width="1.6"/>
<text x="857.7" y="704.0" font-family="Liberation Sans" font-size="14.20" font-weight="normal" fill="#595959" text-anchor="start" textLength="38.5" lengthAdjust="spacingAndGlyphs">0.00%</text>
<polyline points="911.2,735.8 922.2,732.6 1192.2,732.6" fill="none" stroke="#d9d9d9" stroke-width="1.6"/>
<text x="852.7" y="740.4" font-family="Liberation Sans" font-size="14.20" font-weight="normal" fill="#595959" text-anchor="start" textLength="43.5" lengthAdjust="spacingAndGlyphs">-0.20%</text>
<polyline points="911.2,771.6 922.2,767.6 1192.2,767.6" fill="none" stroke="#d9d9d9" stroke-width="1.6"/>
<text x="852.7" y="776.2" font-family="Liberation Sans" font-size="14.20" font-weight="normal" fill="#595959" text-anchor="start" textLength="43.5" lengthAdjust="spacingAndGlyphs">-0.40%</text>
<polyline points="911.2,774.2 922.2,772.7 1203.7,772.7" fill="none" stroke="#d9d9d9" stroke-width="1.6"/>
<linearGradient id="g43" x1="0" x2="1" y1="0" y2="0"><stop offset="0" stop-color="#90b578"/><stop offset="0.55" stop-color="#c6eeaa"/><stop offset="1" stop-color="#a6ce8c"/></linearGradient>
<path d="M919.1,700.0 L953.1,700.0 L953.1,751.7 A17.00,1.8 0 0 1 919.1,751.7 Z" fill="url(#g43)"/>
<linearGradient id="g44" x1="0" x2="1" y1="0" y2="0"><stop offset="0" stop-color="#87ab70"/><stop offset="0.55" stop-color="#c6eeaa"/><stop offset="1" stop-color="#a6ce8c"/></linearGradient>
<path d="M959.8,699.0 L959.8,690.8 A17.00,1.8 0 0 1 993.8,690.8 L993.8,699.0 Z" fill="url(#g44)"/>
<linearGradient id="g45" x1="0" x2="1" y1="0" y2="0"><stop offset="0" stop-color="#7ea168"/><stop offset="0.55" stop-color="#c6eeaa"/><stop offset="1" stop-color="#a6ce8c"/></linearGradient>
<path d="M1000.2,699.0 L1000.2,647.3 A17.00,1.8 0 0 1 1034.2,647.3 L1034.2,699.0 Z" fill="url(#g45)"/>
<linearGradient id="g46" x1="0" x2="1" y1="0" y2="0"><stop offset="0" stop-color="#759760"/><stop offset="0.55" stop-color="#c6eeaa"/><stop offset="1" stop-color="#a6ce8c"/></linearGradient>
<path d="M1040.3,699.0 L1040.3,638.3 A17.00,1.8 0 0 1 1074.3,638.3 L1074.3,699.0 Z" fill="url(#g46)"/>
<linearGradient id="g47" x1="0" x2="1" y1="0" y2="0"><stop offset="0" stop-color="#6c8e59"/><stop offset="0.55" stop-color="#c6eeaa"/><stop offset="1" stop-color="#a6ce8c"/></linearGradient>
<path d="M1080.4,699.0 L1080.4,676.3 A17.00,1.8 0 0 1 1114.4,676.3 L1114.4,699.0 Z" fill="url(#g47)"/>
<linearGradient id="g48" x1="0" x2="1" y1="0" y2="0"><stop offset="0" stop-color="#648451"/><stop offset="0.55" stop-color="#c6eeaa"/><stop offset="1" stop-color="#a6ce8c"/></linearGradient>
<path d="M1120.6,700.0 L1154.6,700.0 L1154.6,742.6 A17.00,1.8 0 0 1 1120.6,742.6 Z" fill="url(#g48)"/>
<linearGradient id="g49" x1="0" x2="1" y1="0" y2="0"><stop offset="0" stop-color="#5b7a49"/><stop offset="0.55" stop-color="#c6eeaa"/><stop offset="1" stop-color="#a6ce8c"/></linearGradient>
<path d="M1160.1,699.0 L1160.1,683.5 A17.00,1.8 0 0 1 1194.1,683.5 L1194.1,699.0 Z" fill="url(#g49)"/>
<text x="907.0" y="776.2" font-family="Liberation Sans" font-size="16.00" font-weight="normal" fill="#404040" text-anchor="start" textLength="52.2" lengthAdjust="spacingAndGlyphs">-0.29%</text>
<text x="950.6" y="676.7" font-family="Liberation Sans" font-size="16.00" font-weight="normal" fill="#404040" text-anchor="start" textLength="46.7" lengthAdjust="spacingAndGlyphs">0.05%</text>
<text x="992.2" y="633.8" font-family="Liberation Sans" font-size="16.00" font-weight="normal" fill="#404040" text-anchor="start" textLength="46.5" lengthAdjust="spacingAndGlyphs">0.29%</text>
<text x="1032.3" y="623.4" font-family="Liberation Sans" font-size="16.00" font-weight="normal" fill="#404040" text-anchor="start" textLength="47.6" lengthAdjust="spacingAndGlyphs">0.34%</text>
<text x="1074.1" y="662.4" font-family="Liberation Sans" font-size="16.00" font-weight="normal" fill="#404040" text-anchor="start" textLength="47.0" lengthAdjust="spacingAndGlyphs">0.13%</text>
<text x="1112.5" y="768.4" font-family="Liberation Sans" font-size="16.00" font-weight="normal" fill="#404040" text-anchor="start" textLength="53.0" lengthAdjust="spacingAndGlyphs">-0.24%</text>
<text x="1156.4" y="669.3" font-family="Liberation Sans" font-size="16.00" font-weight="normal" fill="#404040" text-anchor="start" textLength="47.2" lengthAdjust="spacingAndGlyphs">0.09%</text>
<text x="921.1" y="794.8" font-family="Liberation Sans" font-size="12.20" font-weight="normal" fill="#595959" text-anchor="start" textLength="22.9" lengthAdjust="spacingAndGlyphs">USD</text>
<text x="962.6" y="794.8" font-family="Liberation Sans" font-size="12.20" font-weight="normal" fill="#595959" text-anchor="start" textLength="22.4" lengthAdjust="spacingAndGlyphs">EUR</text>
<text x="1003.6" y="794.8" font-family="Liberation Sans" font-size="12.20" font-weight="normal" fill="#595959" text-anchor="start" textLength="23.5" lengthAdjust="spacingAndGlyphs">GBP</text>
<text x="1046.9" y="794.8" font-family="Liberation Sans" font-size="12.20" font-weight="normal" fill="#595959" text-anchor="start" textLength="19.2" lengthAdjust="spacingAndGlyphs">JPY</text>
<text x="1087.0" y="794.8" font-family="Liberation Sans" font-size="12.20" font-weight="normal" fill="#595959" text-anchor="start" textLength="23.0" lengthAdjust="spacingAndGlyphs">CHF</text>
<text x="1127.7" y="794.8" font-family="Liberation Sans" font-size="12.20" font-weight="normal" fill="#595959" text-anchor="start" textLength="23.5" lengthAdjust="spacingAndGlyphs">CAD</text>
<text x="1169.3" y="794.8" font-family="Liberation Sans" font-size="12.20" font-weight="normal" fill="#595959" text-anchor="start" textLength="23.5" lengthAdjust="spacingAndGlyphs">NZD</text>
<rect x="1243.5" y="567.5" width="395.0" height="245.0" fill="#f2f2f2" stroke="#000" stroke-width="3"/>
<rect x="1245.0" y="569.0" width="392.0" height="242.0" fill="none" stroke="#fff" stroke-width="1.2"/>
<text x="1271.8" y="593.5" font-family="Liberation Sans" font-size="15.40" font-weight="bold" fill="#595959" text-anchor="start" textLength="158.9" lengthAdjust="spacingAndGlyphs">Daily % Change NZD</text>
<polyline points="1317.1,625.6 1328.1,629.0 1606.2,629.0" fill="none" stroke="#d9d9d9" stroke-width="1.6"/>
<text x="1263.6" y="630.2" font-family="Liberation Sans" font-size="14.20" font-weight="normal" fill="#595959" text-anchor="start" textLength="38.5" lengthAdjust="spacingAndGlyphs">0.40%</text>
<polyline points="1317.1,655.3 1328.1,657.0 1606.2,657.0" fill="none" stroke="#d9d9d9" stroke-width="1.6"/>
<text x="1263.6" y="659.9" font-family="Liberation Sans" font-size="14.20" font-weight="normal" fill="#595959" text-anchor="start" textLength="38.5" lengthAdjust="spacingAndGlyphs">0.20%</text>
<polyline points="1317.1,684.2 1328.1,683.9 1617.7,683.9" fill="none" stroke="#d9d9d9" stroke-width="1.6"/>
<text x="1263.6" y="688.8" font-family="Liberation Sans" font-size="14.20" font-weight="normal" fill="#595959" text-anchor="start" textLength="38.5" lengthAdjust="spacingAndGlyphs">0.00%</text>
<polyline points="1317.1,714.6 1328.1,712.8 1606.2,712.8" fill="none" stroke="#d9d9d9" stroke-width="1.6"/>
<text x="1258.6" y="719.2" font-family="Liberation Sans" font-size="14.20" font-weight="normal" fill="#595959" text-anchor="start" textLength="43.5" lengthAdjust="spacingAndGlyphs">-0.20%</text>
<polyline points="1317.1,743.4 1328.1,740.3 1606.2,740.3" fill="none" stroke="#d9d9d9" stroke-width="1.6"/>
<text x="1258.6" y="748.0" font-family="Liberation Sans" font-size="14.20" font-weight="normal" fill="#595959" text-anchor="start" textLength="43.5" lengthAdjust="spacingAndGlyphs">-0.40%</text>
<polyline points="1317.1,773.0 1328.1,768.3 1606.2,768.3" fill="none" stroke="#d9d9d9" stroke-width="1.6"/>
<text x="1258.6" y="777.6" font-family="Liberation Sans" font-size="14.20" font-weight="normal" fill="#595959" text-anchor="start" textLength="43.5" lengthAdjust="spacingAndGlyphs">-0.60%</text>
<polyline points="1317.1,775.6 1328.1,773.5 1617.7,773.5" fill="none" stroke="#d9d9d9" stroke-width="1.6"/>
<linearGradient id="g50" x1="0" x2="1" y1="0" y2="0"><stop offset="0" stop-color="#0000d6"/><stop offset="0.55" stop-color="#2a2aff"/><stop offset="1" stop-color="#0000f0"/></linearGradient>
<path d="M1325.8,685.0 L1360.8,685.0 L1360.8,742.2 A17.50,1.8 0 0 1 1325.8,742.2 Z" fill="url(#g50)"/>
<linearGradient id="g51" x1="0" x2="1" y1="0" y2="0"><stop offset="0" stop-color="#0000cc"/><stop offset="0.55" stop-color="#2a2aff"/><stop offset="1" stop-color="#0000f0"/></linearGradient>
<path d="M1366.9,684.0 L1366.9,680.4 A17.50,1.8 0 0 1 1401.9,680.4 L1401.9,684.0 Z" fill="url(#g51)"/>
<linearGradient id="g52" x1="0" x2="1" y1="0" y2="0"><stop offset="0" stop-color="#0000c2"/><stop offset="0.55" stop-color="#2a2aff"/><stop offset="1" stop-color="#0000f0"/></linearGradient>
<path d="M1408.2,684.0 L1408.2,647.1 A17.50,1.8 0 0 1 1443.2,647.1 L1443.2,684.0 Z" fill="url(#g52)"/>
<linearGradient id="g53" x1="0" x2="1" y1="0" y2="0"><stop offset="0" stop-color="#0000b8"/><stop offset="0.55" stop-color="#2a2aff"/><stop offset="1" stop-color="#0000f0"/></linearGradient>
<path d="M1450.1,684.0 L1450.1,644.2 A17.50,1.8 0 0 1 1485.1,644.2 L1485.1,684.0 Z" fill="url(#g53)"/>
<linearGradient id="g54" x1="0" x2="1" y1="0" y2="0"><stop offset="0" stop-color="#0000ae"/><stop offset="0.55" stop-color="#2a2aff"/><stop offset="1" stop-color="#0000f0"/></linearGradient>
<path d="M1491.2,685.0 L1526.2,685.0 L1526.2,692.9 A17.50,1.8 0 0 1 1491.2,692.9 Z" fill="url(#g54)"/>
<linearGradient id="g55" x1="0" x2="1" y1="0" y2="0"><stop offset="0" stop-color="#0000a4"/><stop offset="0.55" stop-color="#2a2aff"/><stop offset="1" stop-color="#0000f0"/></linearGradient>
<path d="M1531.9,685.0 L1566.9,685.0 L1566.9,724.8 A17.50,1.8 0 0 1 1531.9,724.8 Z" fill="url(#g55)"/>
<linearGradient id="g56" x1="0" x2="1" y1="0" y2="0"><stop offset="0" stop-color="#00009a"/><stop offset="0.55" stop-color="#2a2aff"/><stop offset="1" stop-color="#0000f0"/></linearGradient>
<path d="M1573.0,685.0 L1608.0,685.0 L1608.0,697.2 A17.50,1.8 0 0 1 1573.0,697.2 Z" fill="url(#g56)"/>
<text x="1315.7" y="767.4" font-family="Liberation Sans" font-size="16.00" font-weight="normal" fill="#404040" text-anchor="start" textLength="48.6" lengthAdjust="spacingAndGlyphs">-0.40%</text>
<text x="1360.5" y="667.7" font-family="Liberation Sans" font-size="16.00" font-weight="normal" fill="#404040" text-anchor="start" textLength="43.3" lengthAdjust="spacingAndGlyphs">0.03%</text>
<text x="1402.4" y="634.5" font-family="Liberation Sans" font-size="16.00" font-weight="normal" fill="#404040" text-anchor="start" textLength="46.5" lengthAdjust="spacingAndGlyphs">0.26%</text>
<text x="1445.2" y="630.2" font-family="Liberation Sans" font-size="16.00" font-weight="normal" fill="#404040" text-anchor="start" textLength="43.4" lengthAdjust="spacingAndGlyphs">0.28%</text>
<text x="1484.8" y="716.3" font-family="Liberation Sans" font-size="16.00" font-weight="normal" fill="#404040" text-anchor="start" textLength="48.2" lengthAdjust="spacingAndGlyphs">-0.06%</text>
<text x="1526.7" y="748.7" font-family="Liberation Sans" font-size="16.00" font-weight="normal" fill="#404040" text-anchor="start" textLength="49.1" lengthAdjust="spacingAndGlyphs">-0.28%</text>
<text x="1569.2" y="721.5" font-family="Liberation Sans" font-size="16.00" font-weight="normal" fill="#404040" text-anchor="start" textLength="48.5" lengthAdjust="spacingAndGlyphs">-0.09%</text>
<text x="1327.8" y="795.8" font-family="Liberation Sans" font-size="12.20" font-weight="normal" fill="#595959" text-anchor="start" textLength="23.2" lengthAdjust="spacingAndGlyphs">USD</text>
<text x="1370.6" y="795.8" font-family="Liberation Sans" font-size="12.20" font-weight="normal" fill="#595959" text-anchor="start" textLength="21.7" lengthAdjust="spacingAndGlyphs">EUR</text>
<text x="1412.5" y="795.8" font-family="Liberation Sans" font-size="12.20" font-weight="normal" fill="#595959" text-anchor="start" textLength="24.0" lengthAdjust="spacingAndGlyphs">GBP</text>
<text x="1457.3" y="795.8" font-family="Liberation Sans" font-size="12.20" font-weight="normal" fill="#595959" text-anchor="start" textLength="18.8" lengthAdjust="spacingAndGlyphs">JPY</text>
<text x="1497.8" y="795.8" font-family="Liberation Sans" font-size="12.20" font-weight="normal" fill="#595959" text-anchor="start" textLength="23.1" lengthAdjust="spacingAndGlyphs">CHF</text>
<text x="1539.7" y="795.8" font-family="Liberation Sans" font-size="12.20" font-weight="normal" fill="#595959" text-anchor="start" textLength="24.0" lengthAdjust="spacingAndGlyphs">CAD</text>
<text x="1581.6" y="795.8" font-family="Liberation Sans" font-size="12.20" font-weight="normal" fill="#595959" text-anchor="start" textLength="26.0" lengthAdjust="spacingAndGlyphs">AUD</text>
<text x="1578.6" y="832.0" font-family="Liberation Sans" font-size="15.50" font-weight="normal" fill="#1a1a1a" text-anchor="start" textLength="54.1" lengthAdjust="spacingAndGlyphs">7:14:06</text>
</svg></body></html>
